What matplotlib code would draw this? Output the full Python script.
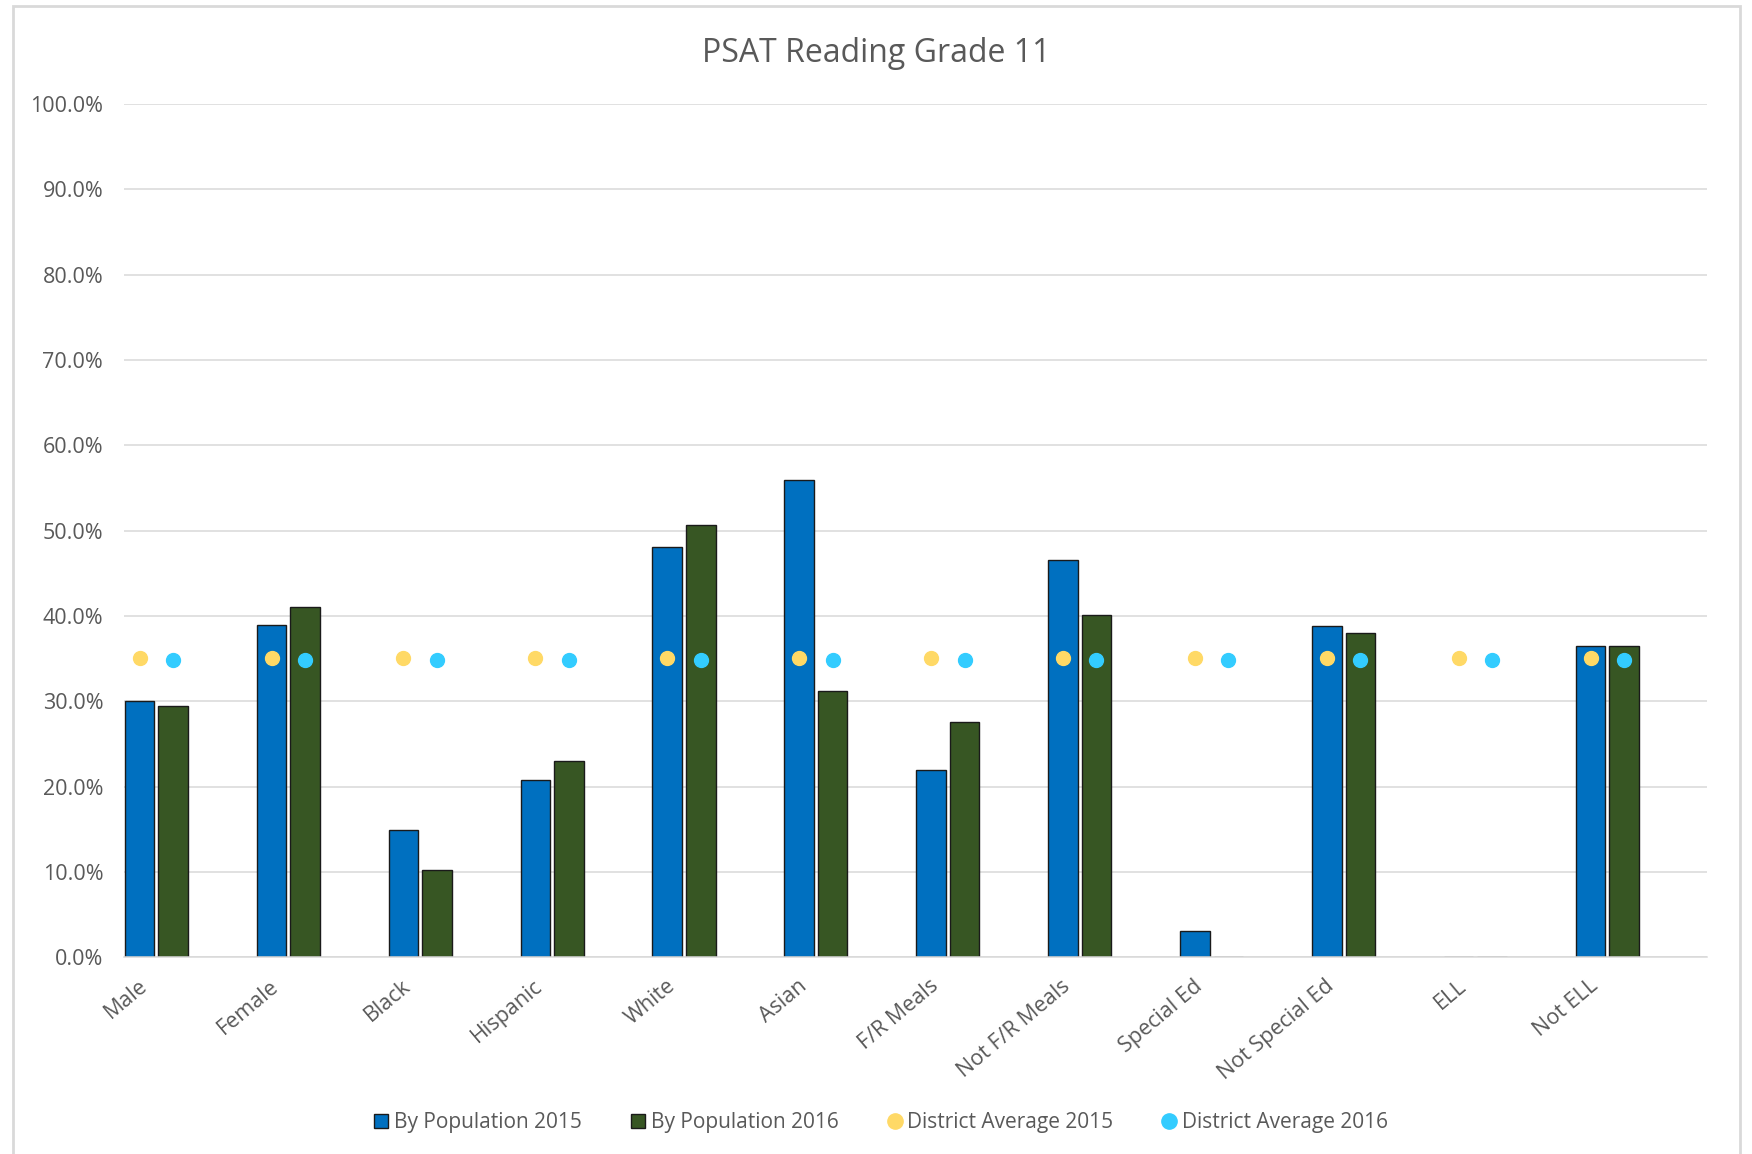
import numpy as np
import matplotlib
matplotlib.use("Agg")
import matplotlib.pyplot as plt
from matplotlib.lines import Line2D
from matplotlib.patches import Rectangle


# ==============================
# DATA
# ==============================

categories = ["Male", "Female", "Black", "Hispanic", "White", "Asian",
              "F/R Meals", "Not F/R Meals", "Special Ed", "Not Special Ed",
              "ELL", "Not ELL"]

pop_2015 = [0.300, 0.390, 0.149, 0.208, 0.481, 0.559,
            0.220, 0.466, 0.031, 0.388, np.nan, 0.365]
pop_2016 = [0.295, 0.411, 0.103, 0.230, 0.507, 0.312,
            0.276, 0.401, np.nan, 0.380, np.nan, 0.365]

district_2015 = [0.351] * len(categories)
district_2016 = [0.348] * len(categories)

y_ticks = np.arange(0, 1.01, 0.1)


# ==============================
# STYLE
# ==============================

BLUE = "#0070C0"
GREEN = "#375623"
YELLOW = "#FFD966"
CYAN = "#33CCFF"
TEXT = "#595959"
GRID = "#D9D9D9"

plt.rcParams["font.family"] = ["Open Sans", "DejaVu Sans"]


# ==============================
# PLOT
# ==============================

fig = plt.figure(figsize=(17.52, 11.54), dpi=100)
ax = fig.add_axes([0.0708, 0.1703, 0.9035, 0.7396])

x = np.arange(len(categories))
bar_w = 0.224
off = 0.127

ax.bar(x - off, np.nan_to_num(pop_2015), width=bar_w, color=BLUE,
       edgecolor="#1a1a1a", linewidth=1.0, zorder=2)
ax.bar(x + off, np.nan_to_num(pop_2016), width=bar_w, color=GREEN,
       edgecolor="#1a1a1a", linewidth=1.0, zorder=2)

ax.plot(x - off, district_2015, linestyle="none", marker="o",
        markersize=10, color=YELLOW, zorder=3)
ax.plot(x + off, district_2016, linestyle="none", marker="o",
        markersize=10, color=CYAN, zorder=3)

ax.set_xlim(-0.245, 11.755)
ax.set_ylim(0, 1.0)

ax.set_yticks(y_ticks)
ax.set_yticklabels([f"{v * 100:.1f}%" for v in y_ticks],
                   fontsize=15.5, color=TEXT)
ax.yaxis.grid(True, color=GRID, linewidth=1.1, zorder=0)
ax.set_axisbelow(True)

# labels sit a little left of the bar pair, like the excel original
ax.set_xticks(x - 0.14)
ax.set_xticklabels(categories, rotation=40, ha="right", va="top",
                   rotation_mode="anchor", fontsize=15.5, color=TEXT)

ax.tick_params(axis="y", length=0, pad=15)
ax.tick_params(axis="x", length=0, pad=13)
for side in ["top", "right", "left"]:
    ax.spines[side].set_visible(False)
ax.spines["bottom"].set_color(GRID)
ax.spines["bottom"].set_linewidth(1.1)

fig.text(0.5, 1 - 54 / 1154, "PSAT Reading Grade 11", ha="center",
         va="center", fontsize=23, color=TEXT)

handles = [
    Line2D([], [], linestyle="none", marker="s", markersize=10,
           markerfacecolor=BLUE, markeredgecolor="#1a1a1a"),
    Line2D([], [], linestyle="none", marker="s", markersize=10,
           markerfacecolor=GREEN, markeredgecolor="#1a1a1a"),
    Line2D([], [], linestyle="none", marker="o", markersize=11,
           color=YELLOW),
    Line2D([], [], linestyle="none", marker="o", markersize=11,
           color=CYAN),
]
labels = ["By Population 2015", "By Population 2016",
          "District Average 2015", "District Average 2016"]
fig.legend(handles, labels, loc="center", bbox_to_anchor=(0.502, 0.027),
           ncol=4, frameon=False, fontsize=15, handletextpad=0.1,
           columnspacing=2.2, handlelength=1.0, labelcolor=TEXT)

# chart border
fig.patches.append(Rectangle((13 / 1752, -0.05), (1740 - 13) / 1752,
                             1.05 - 6 / 1154, transform=fig.transFigure,
                             fill=False, edgecolor=GRID, linewidth=2.0))

fig.savefig("out.png", dpi=100)
